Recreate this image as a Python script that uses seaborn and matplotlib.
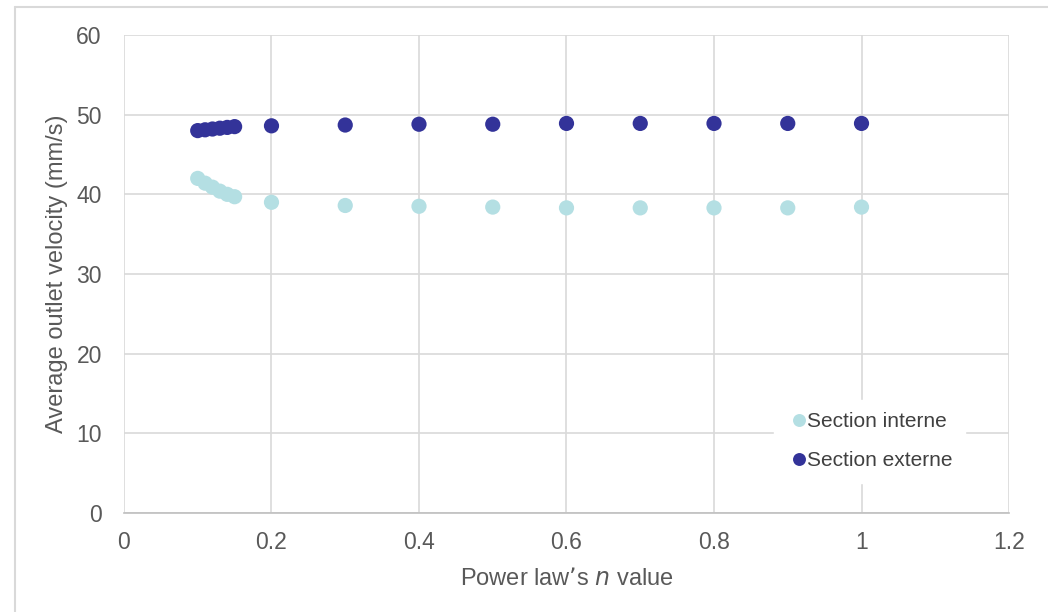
import seaborn as sns
import matplotlib.pyplot as plt
import pandas as pd

# power law n values and average outlet velocity (mm/s)
n_values = [0.10, 0.11, 0.12, 0.13, 0.14, 0.15, 0.2, 0.3, 0.4, 0.5, 0.6, 0.7, 0.8, 0.9, 1.0]
v_interne = [42.0, 41.4, 40.9, 40.4, 40.0, 39.7, 39.0, 38.6, 38.5, 38.4, 38.3, 38.3, 38.3, 38.3, 38.4]
v_externe = [48.0, 48.1, 48.2, 48.3, 48.4, 48.5, 48.6, 48.7, 48.8, 48.8, 48.9, 48.9, 48.9, 48.9, 48.9]
series_names = ["Section interne", "Section externe"]
colors = ["#b4dfe3", "#333399"]

df = pd.concat([
    pd.DataFrame({"n": n_values, "v": v_interne, "series": series_names[0]}),
    pd.DataFrame({"n": n_values, "v": v_externe, "series": series_names[1]}),
])

sns.set_style("white")
plt.rcParams["font.family"] = ["Liberation Sans", "DejaVu Sans"]

fig = plt.figure(figsize=(10.48, 6.12), dpi=100)
ax = fig.add_axes([0.1183, 0.1618, 0.8445, 0.781])

sns.scatterplot(data=df, x="n", y="v", hue="series", palette=colors,
                s=120, edgecolor="none", ax=ax, zorder=3)

ax.set_xlim(0, 1.2)
ax.set_ylim(0, 60)
ax.set_xticks([0, 0.2, 0.4, 0.6, 0.8, 1.0, 1.2])
ax.set_xticklabels(["0", "0.2", "0.4", "0.6", "0.8", "1", "1.2"])
ax.set_yticks(range(0, 61, 10))
ax.grid(True, color="#d9d9d9", linewidth=1.2)
ax.set_axisbelow(True)
for side in ["top", "right", "left"]:
    ax.spines[side].set_visible(False)
ax.spines["bottom"].set_color("#bfbfbf")
ax.spines["bottom"].set_linewidth(1.2)
ax.tick_params(colors="#595959", labelsize=16.5, length=0)
ax.tick_params(axis="y", pad=16)
ax.tick_params(axis="x", pad=13)

ax.set_xlabel("Power law\u2019s $\\it{n}$ value", fontsize=17, color="#595959", labelpad=10)
ax.set_ylabel("Average outlet velocity (mm/s)", fontsize=17, color="#595959", labelpad=6)

leg = ax.legend(loc="center", bbox_to_anchor=(0.842, 0.150), frameon=True,
                fontsize=15, markerscale=0.85, handletextpad=-0.2, handlelength=1.2,
                labelspacing=0.95, borderpad=0.6)
leg.get_frame().set_facecolor("white")
leg.get_frame().set_edgecolor("white")
leg.get_frame().set_alpha(1)
leg.get_frame().set_boxstyle("square", pad=0)
for t in leg.get_texts():
    t.set_color("#404040")

# outer chart border (top and left visible only)
fig.add_artist(plt.Line2D([15 / 1048, 1], [1 - 7 / 612, 1 - 7 / 612], transform=fig.transFigure,
                          color="#d9d9d9", linewidth=1.5))
fig.add_artist(plt.Line2D([15 / 1048, 15 / 1048], [0, 1 - 7 / 612], transform=fig.transFigure,
                          color="#d9d9d9", linewidth=1.5))

fig.savefig("out.png", dpi=100)
